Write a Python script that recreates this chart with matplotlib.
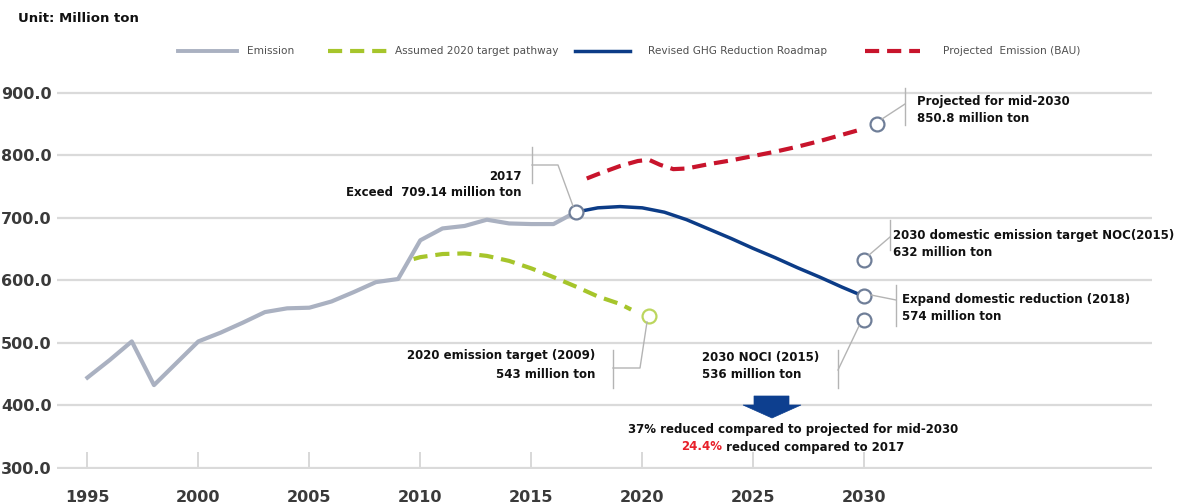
import matplotlib
matplotlib.use("Agg")
import matplotlib.pyplot as plt
from matplotlib.lines import Line2D
from matplotlib.patches import Polygon

# ---- data (million tons CO2-eq) ----
emission_years = [1995, 1996, 1997, 1998, 1999, 2000, 2001, 2002, 2003, 2004,
                  2005, 2006, 2007, 2008, 2009, 2010, 2011, 2012, 2013, 2014,
                  2015, 2016, 2017]
emission_values = [444, 472, 502, 432, 467, 502, 516, 532, 549, 555,
                   556, 566, 581, 597, 602, 664, 683, 687, 697, 691,
                   690, 690, 709.14]

target2020_years = [2009.7, 2010, 2011, 2012, 2013, 2014, 2015, 2016, 2017, 2018, 2019, 2019.5]
target2020_values = [634, 637, 642, 643, 639, 631, 619, 605, 590, 574, 562, 553]

roadmap_years = [2017, 2018, 2019, 2020, 2021, 2022, 2023, 2024, 2025, 2026, 2027, 2028, 2029, 2030]
roadmap_values = [709.14, 716, 718, 716, 709, 697, 682, 667, 651, 636, 620, 605, 589, 574]

bau_years = [2017.5, 2018, 2019, 2019.8, 2020.3, 2020.8, 2021.4, 2022, 2023, 2024,
             2025, 2026, 2027, 2028, 2029, 2030]
bau_values = [763, 770, 783, 791, 793, 785, 778, 779, 786, 792,
              799, 806, 814, 823, 833, 843]

# highlighted points
point_2017 = (2017, 709.14)
point_bau_2030 = (2030.6, 850.8)
point_target_2020 = (2020.3, 543)
points_2030 = [632, 574, 536]

x_ticks = [1995, 2000, 2005, 2010, 2015, 2020, 2025, 2030]
y_ticks = [300, 400, 500, 600, 700, 800, 900]

legend_labels = ["Emission", "Assumed 2020 target pathway",
                 "Revised GHG Reduction Roadmap", "Projected  Emission (BAU)"]

# ---- style ----
C_GRAY = "#aab1c1"
C_GREEN = "#a6c52b"
C_BLUE = "#0c3c87"
C_RED = "#c8142c"
C_RING = "#6f7e98"
C_LEADER = "#b4b4b4"
C_TICKTXT = "#3a3a3a"
FONT = "DejaVu Sans"

W, H = 1185, 504
fig = plt.figure(figsize=(W / 100, H / 100), dpi=100)


def fx(x):
    return x / W


def fy(y):
    return 1 - y / H


ax = fig.add_axes([fx(57), fy(468.75), (1152 - 57) / W, (468.75 - 80) / H])
ax.set_xlim(1993.63, 2042.97)
ax.set_ylim(298, 920.8)

for s in ax.spines.values():
    s.set_visible(False)

ax.set_yticks(y_ticks)
ax.set_yticklabels([f"{v:.1f}" for v in y_ticks])
ax.set_xticks(x_ticks)
ax.set_xticklabels([str(v) for v in x_ticks])
ax.yaxis.grid(True, color="#dadada", lw=1.6)
ax.set_axisbelow(True)
ax.tick_params(axis="y", length=0, pad=4, labelsize=11.5, labelcolor=C_TICKTXT)
ax.tick_params(axis="x", direction="in", length=12, width=1.2, color="#d2d2d2",
               pad=15, labelsize=11.5, labelcolor=C_TICKTXT)
for lbl in ax.get_xticklabels() + ax.get_yticklabels():
    lbl.set_fontweight("bold")
    lbl.set_family(FONT)

# ---- series ----
ax.plot(emission_years, emission_values, color=C_GRAY, lw=3.0,
        solid_joinstyle="round", zorder=3)
ax.plot(target2020_years, target2020_values, color=C_GREEN, lw=3,
        dashes=(3.4, 1.9), zorder=3)
ax.plot(roadmap_years, roadmap_values, color=C_BLUE, lw=2.5,
        solid_joinstyle="round", zorder=4)
ax.plot(bau_years, bau_values, color=C_RED, lw=3, dashes=(3.4, 1.9), zorder=3)

ring = dict(marker="o", ms=10, mfc="white", mew=1.6, ls="none", zorder=6)
ax.plot(*point_2017, mec=C_RING, **ring)
ax.plot(*point_bau_2030, mec=C_RING, **ring)
ax.plot(*point_target_2020, mec="#bcd65e", **ring)
ax.plot([2030] * len(points_2030), points_2030, mec=C_RING, **ring)

# ---- leader lines (canvas pixel positions) ----
leaders = [
    [(532, 147), (532, 183)], [(532, 165), (558, 165), (573, 206)],
    [(905, 88), (905, 125)], [(905, 104), (882, 119)],
    [(890, 220), (890, 250)], [(890, 237), (869, 255)],
    [(896, 285), (896, 326)], [(871, 295), (896, 300)],
    [(613, 350), (613, 388)], [(613, 368), (640, 368), (647, 322)],
    [(838, 350), (838, 388)], [(838, 370), (859, 326)],
]
for pts in leaders:
    fig.add_artist(Line2D([fx(p[0]) for p in pts], [fy(p[1]) for p in pts],
                          color=C_LEADER, lw=1.0, zorder=2))

# ---- annotation texts ----
tb = dict(fontsize=8.5, fontweight="bold", color="#111111", family=FONT, va="center")
fig.text(fx(522), fy(176), "2017", ha="right", **tb)
fig.text(fx(522), fy(193), "Exceed  709.14 million ton", ha="right", **tb)
fig.text(fx(917), fy(102), "Projected for mid-2030", ha="left", **tb)
fig.text(fx(917), fy(119), "850.8 million ton", ha="left", **tb)
fig.text(fx(893), fy(235), "2030 domestic emission target NOC(2015)", ha="left", **tb)
fig.text(fx(893), fy(253), "632 million ton", ha="left", **tb)
fig.text(fx(902), fy(300), "Expand domestic reduction (2018)", ha="left", **tb)
fig.text(fx(902), fy(317), "574 million ton", ha="left", **tb)
fig.text(fx(595), fy(356), "2020 emission target (2009)", ha="right", **tb)
fig.text(fx(595), fy(375), "543 million ton", ha="right", **tb)
fig.text(fx(702), fy(357), "2030 NOCI (2015)", ha="left", **tb)
fig.text(fx(702), fy(375), "536 million ton", ha="left", **tb)

# reduction summary with a down arrow
arrow = [(754, 396), (789, 396), (789, 405), (801, 405), (772, 418), (743, 405), (754, 405)]
fig.add_artist(Polygon([(fx(x), fy(y)) for x, y in arrow], closed=True,
                       facecolor="#0d3f8f", edgecolor="#0d3f8f", lw=0.5, zorder=7))
fig.text(fx(793), fy(430), "37% reduced compared to projected for mid-2030", ha="center", **tb)

renderer = fig.canvas.get_renderer()
red_part = fig.text(0, fy(447), "24.4%", ha="left", **{**tb, "color": "#e8202a"})
rest_part = fig.text(0, fy(447), " reduced compared to 2017", ha="left", **tb)
w_red = red_part.get_window_extent(renderer).width
w_rest = rest_part.get_window_extent(renderer).width
x0 = 793 - (w_red + w_rest) / 2
red_part.set_x(fx(x0))
rest_part.set_x(fx(x0 + w_red))

# ---- header and legend ----
fig.text(fx(18), fy(18), "Unit: Million ton", fontsize=9.5, fontweight="bold",
         color="#111111", family=FONT, va="center")

leg_y = 51
leg_items = [
    (178, 237, C_GRAY, 2.8, None, 247),
    (328, 388, C_GREEN, 3.0, (3.4, 1.9), 395),
    (575, 630, C_BLUE, 2.5, None, 648),
    (865, 920, C_RED, 3.0, (3.4, 1.9), 943),
]
for (x1, x2, col, lw, dash, xt), label in zip(leg_items, legend_labels):
    ln = Line2D([fx(x1), fx(x2)], [fy(leg_y), fy(leg_y)], color=col, lw=lw)
    if dash:
        ln.set_dashes(dash)
    fig.add_artist(ln)
    fig.text(fx(xt), fy(leg_y), label, fontsize=7.6, color="#505050",
             family=FONT, va="center", ha="left")

fig.savefig("out.png", dpi=100, facecolor="white")
